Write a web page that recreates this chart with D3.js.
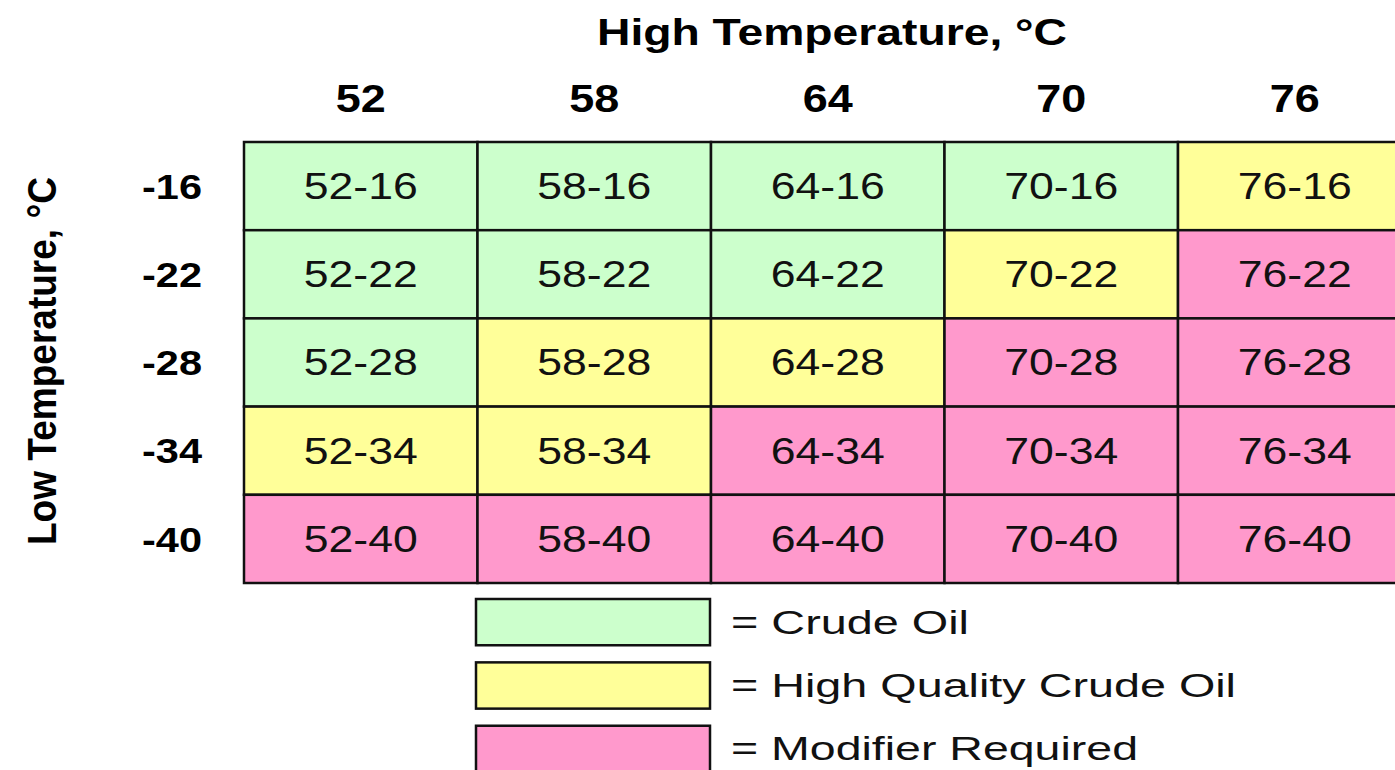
<!DOCTYPE html>
<html>
<head>
<meta charset="utf-8">
<script src="https://cdn.jsdelivr.net/npm/d3@7"></script>
<style>
  html, body { margin: 0; padding: 0; background: #fff; overflow: hidden; }
  svg { display: block; }
  .hdr { font-family: "Liberation Sans", Arial, sans-serif; font-weight: bold; fill: #000; }
  .cell-text, .legend-text { font-family: "Liberation Sans", Arial, sans-serif; fill: #111; }
  .ytitle { font-family: "Liberation Sans Narrow", "Liberation Sans", Arial, sans-serif; font-weight: bold; }
</style>
</head>
<body>
<div id="chart"></div>
<script>
// data
const highTemps = [52, 58, 64, 70, 76];
const lowTemps = [-16, -22, -28, -34, -40];
// grade per row (low temp), one entry per high temp column
const row16 = ['crude', 'crude', 'crude', 'crude', 'hq'];
const row22 = ['crude', 'crude', 'crude', 'hq', 'mod'];
const row28 = ['crude', 'hq', 'hq', 'mod', 'mod'];
const row34 = ['hq', 'hq', 'mod', 'mod', 'mod'];
const row40 = ['mod', 'mod', 'mod', 'mod', 'mod'];
const gradeRows = [row16, row22, row28, row34, row40];
const gradeKeys = ['crude', 'hq', 'mod'];
const gradeLabels = ['= Crude Oil', '= High Quality Crude Oil', '= Modifier Required'];

const width = 1395, height = 770;
const colors = { crude: '#ccffcc', hq: '#ffff99', mod: '#ff99cc' };

const svg = d3.select('#chart')
    .append('svg')
    .attr('width', width)
    .attr('height', height);

// scales
const x = d3.scaleBand()
    .domain(highTemps)
    .range([244, 244 + 5 * 233.5])
    .padding(0);

const y = d3.scaleBand()
    .domain(lowTemps)
    .range([142, 583])
    .padding(0);

// cells
const cells = [];
gradeRows.forEach((row, i) => {
    row.forEach((g, j) => {
        cells.push({ high: highTemps[j], low: lowTemps[i], grade: g });
    });
});

const cellG = svg.append('g');

cellG.selectAll('rect')
    .data(cells)
    .enter()
    .append('rect')
    .attr('x', d => x(d.high))
    .attr('y', d => y(d.low))
    .attr('width', x.bandwidth())
    .attr('height', y.bandwidth())
    .attr('fill', d => colors[d.grade])
    .attr('stroke', '#111')
    .attr('stroke-width', 2.5);

cellG.selectAll('text')
    .data(cells)
    .enter()
    .append('text')
    .attr('class', 'cell-text')
    .attr('x', d => x(d.high) + x.bandwidth() / 2)
    .attr('y', d => y(d.low) + y.bandwidth() / 2)
    .attr('dy', '0.36em')
    .attr('text-anchor', 'middle')
    .attr('textLength', 114)
    .attr('lengthAdjust', 'spacingAndGlyphs')
    .style('font-size', '36px')
    .text(d => `${d.high}${d.low}`);

// column headers
svg.selectAll('.col-label')
    .data(highTemps)
    .enter()
    .append('text')
    .attr('class', 'hdr col-label')
    .attr('x', d => x(d) + x.bandwidth() / 2)
    .attr('y', 98)
    .attr('dy', '0.36em')
    .attr('text-anchor', 'middle')
    .attr('textLength', 50)
    .attr('lengthAdjust', 'spacingAndGlyphs')
    .style('font-size', '39px')
    .text(d => d);

// row headers
svg.selectAll('.row-label')
    .data(lowTemps)
    .enter()
    .append('text')
    .attr('class', 'hdr row-label')
    .attr('x', 202)
    .attr('y', d => y(d) + y.bandwidth() / 2)
    .attr('dy', '0.36em')
    .attr('text-anchor', 'end')
    .attr('textLength', 60)
    .attr('lengthAdjust', 'spacingAndGlyphs')
    .style('font-size', '35px')
    .text(d => d);

// titles
svg.append('text')
    .attr('class', 'hdr')
    .attr('x', 832)
    .attr('y', 32)
    .attr('dy', '0.36em')
    .attr('text-anchor', 'middle')
    .attr('textLength', 470)
    .attr('lengthAdjust', 'spacingAndGlyphs')
    .style('font-size', '36px')
    .text('High Temperature, °C');

svg.append('text')
    .attr('class', 'ytitle')
    .attr('transform', 'translate(42,361) rotate(-90)')
    .attr('dy', '0.36em')
    .attr('text-anchor', 'middle')
    .attr('textLength', 368)
    .attr('lengthAdjust', 'spacingAndGlyphs')
    .style('font-size', '40px')
    .text('Low Temperature, °C');

// legend
const legendY = d3.scaleBand()
    .domain(gradeKeys)
    .range([599, 772])
    .paddingInner(0.27)
    .paddingOuter(0);

const legend = svg.append('g');

legend.selectAll('rect')
    .data(gradeKeys)
    .enter()
    .append('rect')
    .attr('x', 476)
    .attr('y', d => legendY(d))
    .attr('width', 234)
    .attr('height', legendY.bandwidth())
    .attr('fill', d => colors[d])
    .attr('stroke', '#111')
    .attr('stroke-width', 2.5);

const legendWidths = [238, 505, 407];

legend.selectAll('text')
    .data(gradeKeys)
    .enter()
    .append('text')
    .attr('class', 'legend-text')
    .attr('x', 731)
    .attr('y', d => legendY(d) + legendY.bandwidth() / 2)
    .attr('dy', '0.34em')
    .attr('textLength', (d, i) => legendWidths[i])
    .attr('lengthAdjust', 'spacingAndGlyphs')
    .style('font-size', '34px')
    .text((d, i) => gradeLabels[i]);
</script>
</body>
</html>
